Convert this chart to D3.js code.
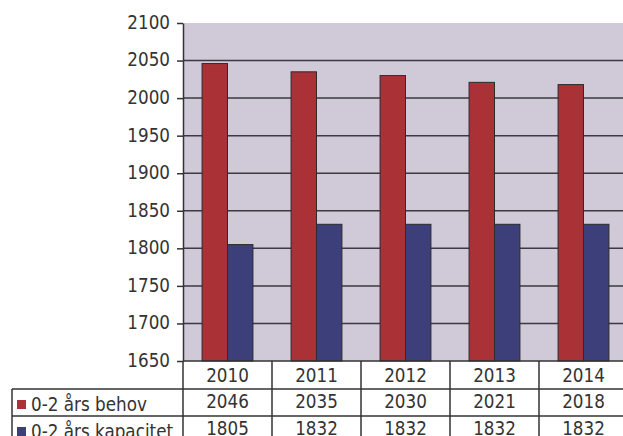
<!DOCTYPE html>
<html>
<head>
<meta charset="utf-8">
<script src="https://cdn.jsdelivr.net/npm/d3@7"></script>
<style>
  body { margin: 0; background: #fff; }
  svg { display: block; }
</style>
</head>
<body>
<svg id="chart" width="623" height="436"></svg>
<script>
const years = ["2010", "2011", "2012", "2013", "2014"];
const seriesNames = ["0-2 års behov", "0-2 års kapacitet"];
const behov = [2046, 2035, 2030, 2021, 2018];
const kapacitet = [1805, 1832, 1832, 1832, 1832];
const yTicks = [1650, 1700, 1750, 1800, 1850, 1900, 1950, 2000, 2050, 2100];

const colors = ["#aa3236", "#3c3f79"];
const FONT = "DejaVu Sans, Verdana, sans-serif";
const FS = 16.8;
const STRETCH = 1.17; // text looks a bit tall in the scan
const TEXT_COLOR = "#333";

const PLOT_LEFT = 183;
const PLOT_TOP = 23;
const PLOT_BOTTOM = 361;
const CAT_W = 89;
const ROW1 = 389; // first legend row top
const ROW2 = 416;

const svg = d3.select("#chart");

const x = d3.scaleBand()
  .domain(years)
  .range([PLOT_LEFT, PLOT_LEFT + CAT_W * years.length]);

const xSub = d3.scaleBand()
  .domain([0, 1])
  .range([0, x.bandwidth()])
  .paddingOuter(0.75);

const y = d3.scaleLinear()
  .domain([1650, 2100])
  .range([PLOT_BOTTOM, PLOT_TOP]);

const data = years.map((yr, i) => ({ year: yr, values: [behov[i], kapacitet[i]] }));

// plot background
svg.append("rect")
  .attr("x", PLOT_LEFT)
  .attr("y", PLOT_TOP)
  .attr("width", x.range()[1] - PLOT_LEFT)
  .attr("height", PLOT_BOTTOM - PLOT_TOP)
  .attr("fill", "#d0c9d8");

// gridlines
svg.append("g")
  .selectAll("line")
  .data(yTicks.filter((t) => t > 1650 && t < 2100))
  .join("line")
  .attr("x1", PLOT_LEFT)
  .attr("x2", x.range()[1])
  .attr("y1", (d) => y(d))
  .attr("y2", (d) => y(d))
  .attr("stroke", "#3a3a40")
  .attr("stroke-width", 1.5);

// bars
const groups = svg.append("g")
  .selectAll("g")
  .data(data)
  .join("g")
  .attr("transform", (d) => `translate(${x(d.year)},0)`);

groups.selectAll("rect")
  .data((d) => d.values)
  .join("rect")
  .attr("x", (d, i) => xSub(i))
  .attr("width", xSub.bandwidth())
  .attr("y", (d) => y(d))
  .attr("height", (d) => PLOT_BOTTOM - y(d))
  .attr("fill", (d, i) => colors[i])
  .attr("stroke", "#2a2a30")
  .attr("stroke-width", 1);

// y axis
const yAxis = svg.append("g")
  .attr("transform", `translate(${PLOT_LEFT},0)`)
  .call(d3.axisLeft(y)
    .tickValues(yTicks)
    .tickFormat(d3.format("d"))
    .tickSize(6)
    .tickPadding(7)
    .tickSizeOuter(0));
yAxis.select(".domain").attr("stroke", "#333").attr("stroke-width", 1.5);
yAxis.selectAll(".tick line").attr("stroke", "#333").attr("stroke-width", 1.5);
yAxis.selectAll(".tick text")
  .attr("font-family", FONT)
  .attr("font-size", FS)
  .attr("fill", TEXT_COLOR)
  .attr("dy", null)
  .attr("y", 0)
  .attr("dominant-baseline", "middle")
  .attr("transform", `scale(1,${STRETCH})`);

// data table
const tableRight = x.range()[1];
const table = svg.append("g")
  .attr("stroke", "#333")
  .attr("stroke-width", 1.5);

table.append("line")
  .attr("x1", PLOT_LEFT).attr("x2", tableRight)
  .attr("y1", PLOT_BOTTOM).attr("y2", PLOT_BOTTOM);
[ROW1, ROW2].forEach((ry) => {
  table.append("line")
    .attr("x1", 12).attr("x2", tableRight)
    .attr("y1", ry).attr("y2", ry);
});
table.append("line")
  .attr("x1", 12).attr("x2", 12)
  .attr("y1", ROW1).attr("y2", 440);
table.selectAll(".vline")
  .data(years.slice(1))
  .join("line")
  .attr("x1", (d) => x(d)).attr("x2", (d) => x(d))
  .attr("y1", PLOT_BOTTOM).attr("y2", 440);
table.append("line")
  .attr("x1", PLOT_LEFT).attr("x2", PLOT_LEFT)
  .attr("y1", PLOT_BOTTOM).attr("y2", 440);

function cellText(g, tx, ty, str, anchor) {
  g.append("text")
    .attr("transform", `translate(${tx},${ty}) scale(1,${STRETCH})`)
    .attr("text-anchor", anchor)
    .attr("font-family", FONT)
    .attr("font-size", FS)
    .attr("fill", TEXT_COLOR)
    .text(str);
}

const texts = svg.append("g");
const baselines = [382, 408, 435];
years.forEach((yr, i) => {
  const cx = x(yr) + x.bandwidth() / 2;
  cellText(texts, cx, baselines[0], yr, "middle");
  cellText(texts, cx, baselines[1], behov[i], "middle");
  cellText(texts, cx, baselines[2], kapacitet[i], "middle");
});

seriesNames.forEach((name, i) => {
  const by = baselines[i + 1];
  texts.append("rect")
    .attr("x", 17)
    .attr("y", by - 8)
    .attr("width", 9)
    .attr("height", 9)
    .attr("fill", colors[i]);
  cellText(texts, 31, by + 3, name, "start");
});
</script>
</body>
</html>
